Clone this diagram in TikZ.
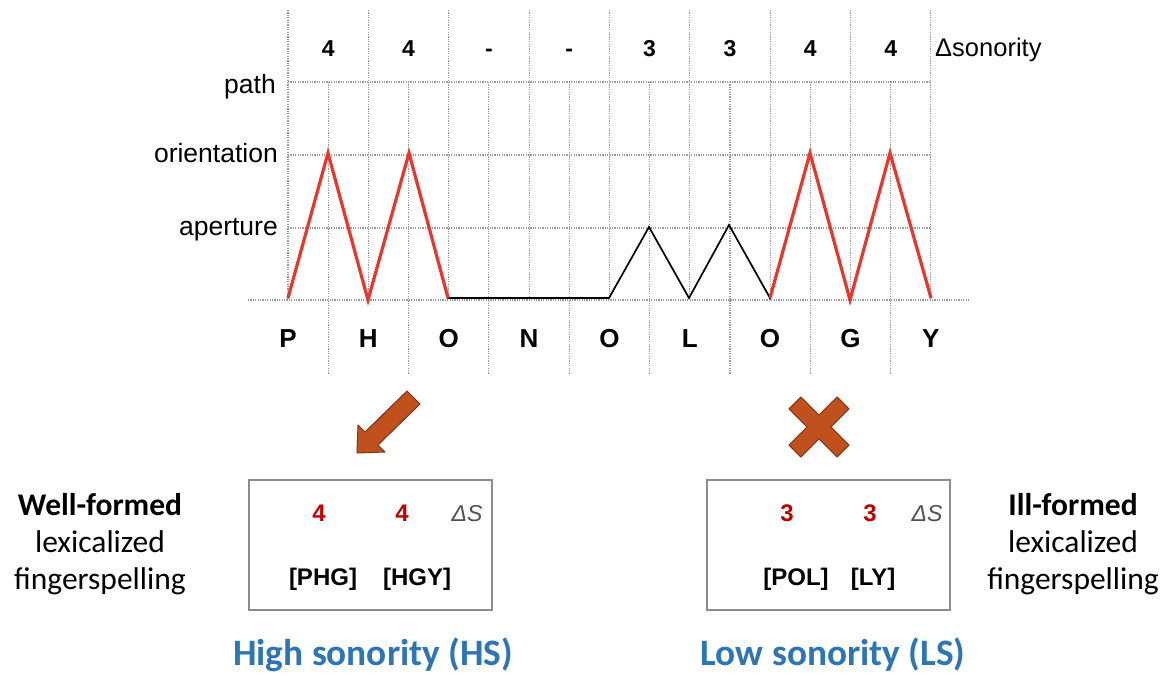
\documentclass[tikz,border=0pt]{standalone}
\usepackage{fontspec}
\setmainfont{Liberation Sans}
\newfontfamily\carl{Carlito}
\definecolor{gridc}{HTML}{9A9A9A}
\definecolor{redl}{HTML}{E8382D}
\definecolor{redt}{HTML}{C00000}
\definecolor{bluet}{HTML}{2E75B6}
\definecolor{brownf}{HTML}{C0501E}
\definecolor{browno}{HTML}{7F3212}
\definecolor{boxc}{HTML}{8C8C8C}
\definecolor{dsc}{HTML}{505050}
\begin{document}
\begin{tikzpicture}[x=1pt,y=-1pt,
  gridl/.style={gridc, line width=1.1pt, dash pattern=on 1.2pt off 1.2pt},
  num/.style={font=\bfseries\fontsize{23}{27}\selectfont, anchor=base, inner sep=0pt},
  letter/.style={font=\bfseries\fontsize{26}{30}\selectfont, anchor=base, inner sep=0pt},
  rowlab/.style={font=\fontsize{26.5}{30}\selectfont, anchor=mid east, inner sep=0pt},
  trace/.style={black, line width=1.7pt, line join=miter},
  redtrace/.style={redl, line width=3.2pt, line join=miter},
  sbox/.style={draw=boxc, line width=1.5pt, minimum width=243pt, minimum height=130pt, inner sep=0pt},
  rednum/.style={font=\bfseries\fontsize{24}{28}\selectfont, text=redt, anchor=base, inner sep=0pt},
  dsl/.style={font=\itshape\fontsize{23}{28}\selectfont, text=dsc, anchor=base, inner sep=0pt},
  brk/.style={font=\bfseries\fontsize{24}{28}\selectfont, anchor=base, inner sep=0pt},
  bluetitle/.style={font=\carl\bfseries\fontsize{37.3}{42}\selectfont, text=bluet, anchor=base, inner sep=0pt},
  side/.style={font=\carl\fontsize{31.5}{37}\selectfont, anchor=base, inner sep=0pt},
  sideb/.style={font=\carl\bfseries\fontsize{31.5}{37}\selectfont, anchor=base, inner sep=0pt},
  signshape/.style={fill=brownf, draw=browno, line width=1pt, line join=round}
]
\path[use as bounding box, fill=white] (0,0) rectangle (1175,675);

% grid
\foreach \i in {0,...,8} { \draw[gridl] ({288+80.35*\i},10) -- ({288+80.35*\i},300); }
\foreach \i in {0,...,7} { \draw[gridl] ({328.2+80.35*\i},82) -- ({328.2+80.35*\i},374); }
\draw[gridl] (288,82) -- (931,82);
\draw[gridl] (288,155) -- (931,155);
\draw[gridl] (288,228) -- (931,228);
\draw[gridl] (248,300) -- (970,300);

% row labels
\node[rowlab] (rpath) at (276,91) {path};
\node[rowlab] (rori) at (278,160) {orientation};
\node[rowlab] (rape) at (278,233) {aperture};
\node[font=\fontsize{25.5}{30}\selectfont, anchor=base west, inner sep=0pt] (dson) at (935,56) {Δsonority};

% top numbers
\foreach \v [count=\i from 0] in {4,4,-,-,3,3,4,4}
  \node[num] (n\i) at ({328.2+80.35*\i},56.5) {\v};

% letters
\foreach \l [count=\i from 0] in {P,H,O,N,O,L,O,G,Y}
  \node[letter] (l\i) at ({288+80.35*\i},347) {\l};

% trace points
\coordinate (t0) at (288,298);
\coordinate (t1) at (328,153);
\coordinate (t2) at (368,300);
\coordinate (t3) at (409,153);
\coordinate (t4) at (448,298);
\coordinate (t5) at (609,298);
\coordinate (t6) at (649,227);
\coordinate (t7) at (689,298);
\coordinate (t8) at (729,225);
\coordinate (t9) at (770,298);
\coordinate (t10) at (810,153);
\coordinate (t11) at (850,300);
\coordinate (t12) at (890,153);
\coordinate (t13) at (931,298);

\draw[trace] (t0) -- (t1) -- (t2) -- (t3) -- (t4) -- (t5) -- (t6) -- (t7) -- (t8) -- (t9) -- (t10) -- (t11) -- (t12) -- (t13);
\draw[redtrace] (t0) -- (t1) -- (t2) -- (t3) -- (t4);
\draw[redtrace] (t9) -- (t10) -- (t11) -- (t12) -- (t13);

% arrow
\draw[signshape] (357,453) -- (385,452) -- (378,445) -- (420,404) -- (407,391) -- (365,432) -- (358,425) -- cycle;

% cross
\begin{scope}[shift={(819,427)}, rotate=45]
\draw[signshape] (34,8.5) -- (8.5,8.5) -- (8.5,34) -- (-8.5,34) -- (-8.5,8.5) -- (-34,8.5) -- (-34,-8.5) -- (-8.5,-8.5) -- (-8.5,-34) -- (8.5,-34) -- (8.5,-8.5) -- (34,-8.5) -- cycle;
\end{scope}

% boxes
\node[sbox] (boxL) at (370.5,545) {};
\node[sbox] (boxR) at (828.5,545) {};

\node[rednum] (hs1) at (319,521.5) {4};
\node[rednum] (hs2) at (402,521.5) {4};
\node[dsl] (dsL) at (467,521.5) {ΔS};
\node[brk] (phg) at (323,585) {[PHG]};
\node[brk] (hgy) at (417,585) {[HGY]};

\node[rednum] (ls1) at (787,521.5) {3};
\node[rednum] (ls2) at (870,521.5) {3};
\node[dsl] (dsR) at (927,521.5) {ΔS};
\node[brk] (pol) at (796,585) {[POL]};
\node[brk] (ly) at (873,585) {[LY]};

% side labels
\node[sideb] (wf) at (100,515) {Well-formed};
\node[side] (wf2) at (100,552) {lexicalized};
\node[side] (wf3) at (100,589) {fingerspelling};
\node[sideb] (if) at (1073,515) {Ill-formed};
\node[side] (if2) at (1073,552) {lexicalized};
\node[side] (if3) at (1073,589) {fingerspelling};

% bottom titles
\node[bluetitle] (hst) at (373,665) {High sonority (HS)};
\node[bluetitle] (lst) at (833,665) {Low sonority (LS)};
\end{tikzpicture}
\end{document}
